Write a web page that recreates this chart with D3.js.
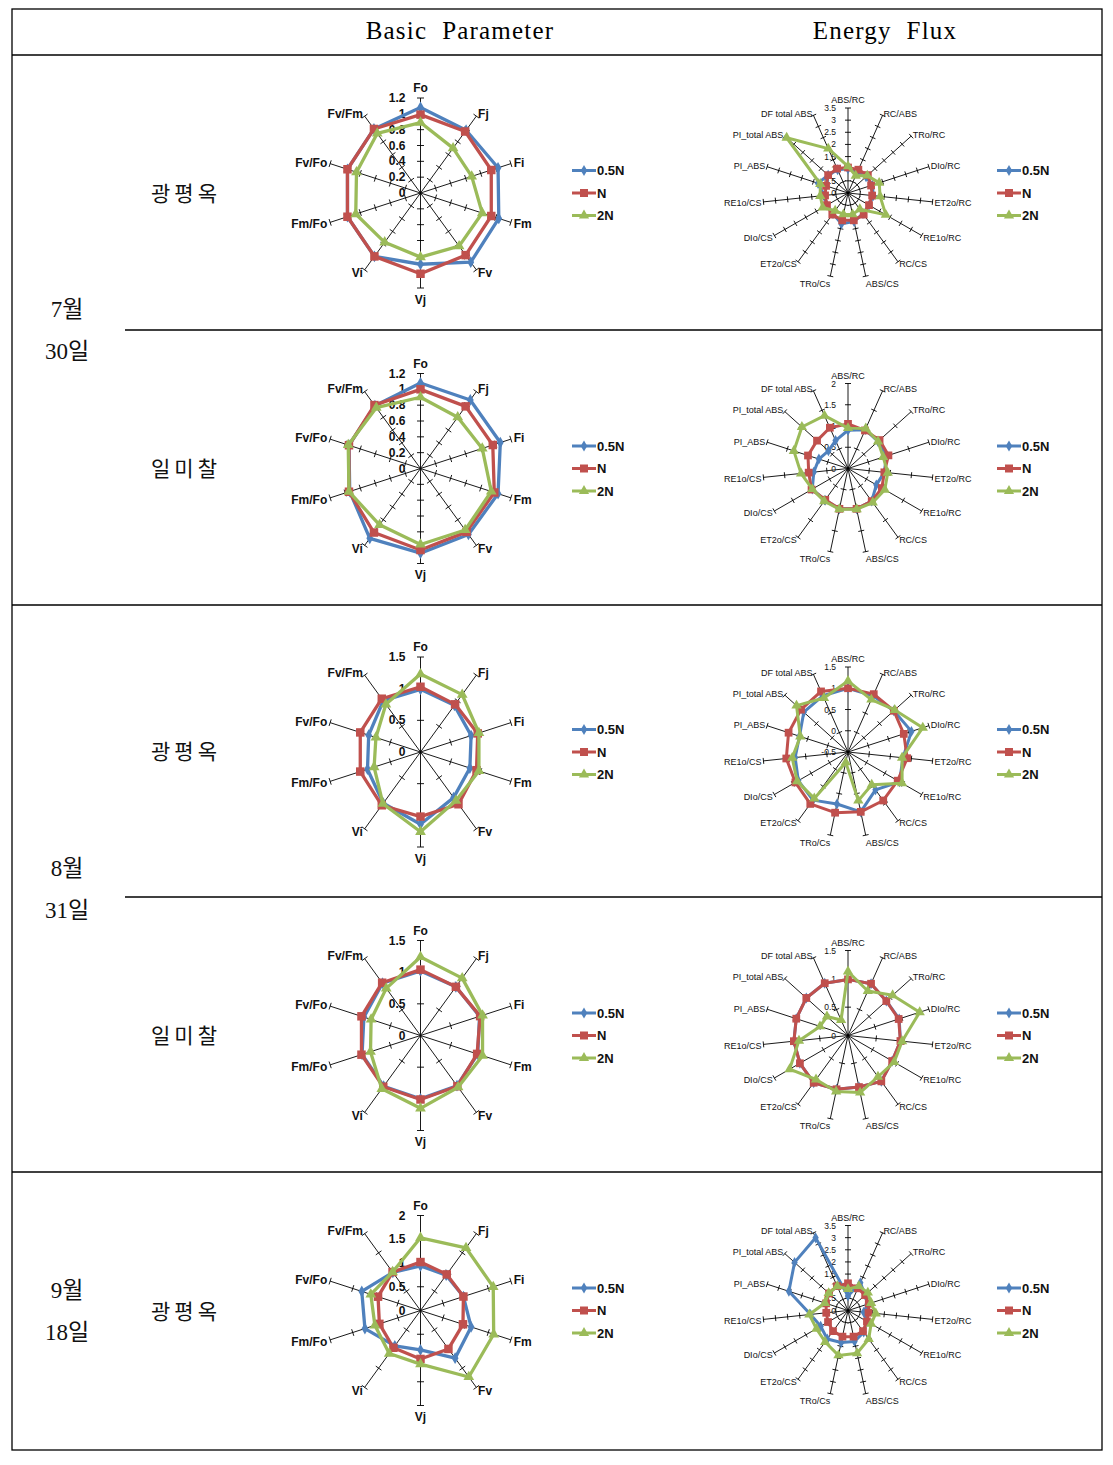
<!DOCTYPE html>
<html><head><meta charset="utf-8">
<script src="https://cdn.jsdelivr.net/npm/d3@7"></script>
<style>body{margin:0;background:#fff}</style>
</head><body>
<svg id="c" width="1113" height="1465"></svg>
<script>
// ---------- categories ----------
const seriesNames = ["0.5N", "N", "2N"];
const basicAxes = ["Fo","Fj","Fi","Fm","Fv","Vj","Vi","Fm/Fo","Fv/Fo","Fv/Fm"];
const energyAxes = ["ABS/RC","RC/ABS","TRo/RC","DIo/RC","ET2o/RC","RE1o/RC","RC/CS","ABS/CS","TRo/Cs","ET2o/CS","DIo/CS","RE1o/CS","PI_ABS","PI_total ABS","DF total ABS"];
const headers = ["Basic  Parameter", "Energy  Flux"];
const cultivars = ["광평옥", "일미찰", "광평옥", "일미찰", "광평옥"];
const dates = [["7월","30일"], ["8월","31일"], ["9월","18일"]];

// ---------- tick values ----------
const ticksB1 = [0,0.2,0.4,0.6,0.8,1,1.2];
const ticksB2 = [0,0.2,0.4,0.6,0.8,1,1.2];
const ticksB3 = [0,0.5,1,1.5];
const ticksB4 = [0,0.5,1,1.5];
const ticksB5 = [0,0.5,1,1.5,2];
const ticksE1 = [0,0.5,1,1.5,2,2.5,3,3.5];
const ticksE2 = [0,0.5,1,1.5,2];
const ticksE3 = [-0.5,0,0.5,1,1.5];
const ticksE4 = [0,0.5,1,1.5];
const ticksE5 = [0,0.5,1,1.5,2,2.5,3,3.5];

// ---------- series values ----------
// 7/30 광평옥
const b1_05N = [1.08,0.98,1.03,1.04,1.08,0.90,0.99,0.97,0.97,1.00];
const b1_N   = [0.99,0.96,0.94,0.94,0.97,1.02,0.99,0.97,0.97,1.00];
const b1_2N  = [0.89,0.70,0.68,0.82,0.83,0.81,0.77,0.86,0.85,0.93];
const e1_05N = [1.0,0.95,1.0,1.05,1.05,1.0,1.05,1.2,1.3,1.05,1.0,1.0,1.3,1.1,1.05];
const e1_N   = [1.05,1.05,1.1,1.0,1.0,1.0,1.1,1.15,1.15,1.1,1.0,0.95,0.95,1.1,1.1];
const e1_2N  = [1.1,0.78,1.07,1.35,1.33,1.8,0.83,0.9,0.9,0.9,1.2,1.15,1.2,3.4,2.0];
// 7/30 일미찰
const b2_05N = [1.08,1.07,1.06,1.03,1.03,1.07,1.09,0.94,0.95,0.98];
const b2_N   = [1.00,0.97,0.96,0.98,0.99,1.03,1.00,0.95,0.95,0.99];
const b2_2N  = [0.90,0.80,0.82,0.94,0.96,0.96,0.88,0.95,0.96,0.95];
const e2_05N = [0.9,1.0,0.95,0.95,0.86,0.77,0.95,0.97,0.97,0.92,0.97,0.81,0.72,0.62,0.72];
const e2_N   = [1.05,0.98,1.0,1.0,0.86,0.92,0.95,0.97,0.97,0.91,0.99,0.93,0.99,0.98,1.05];
const e2_2N  = [0.95,1.03,0.95,0.87,0.94,1.0,0.99,0.98,0.98,0.95,0.97,1.11,1.34,1.46,1.36];
// 8/31 광평옥
const b3_05N = [0.99,0.91,0.84,0.82,0.89,1.14,1.00,0.88,0.86,1.00];
const b3_N   = [1.03,0.93,0.95,0.93,1.02,1.02,1.04,1.00,1.00,1.04];
const b3_2N  = [1.23,1.12,0.97,0.97,0.95,1.26,1.01,0.77,0.74,0.93];
const e3_05N = [1.0,0.95,0.95,1.07,0.8,0.9,0.6,0.94,0.75,0.9,0.85,0.75,0.7,0.9,0.95];
const e3_N   = [1.0,0.99,0.95,0.88,0.9,0.85,0.91,0.94,0.96,1.01,0.93,0.96,0.97,0.99,1.06];
const e3_2N  = [1.17,0.85,0.98,1.35,0.78,0.97,0.45,0.67,-0.25,0.85,0.88,0.82,0.68,1.13,0.89];
// 8/31 일미찰
const b4_05N = [1.02,0.95,0.98,0.95,0.98,1.00,0.99,0.97,0.94,1.02];
const b4_N   = [1.04,0.95,0.99,0.94,0.99,1.01,1.00,0.98,0.98,1.03];
const b4_2N  = [1.24,1.12,1.03,1.03,1.01,1.15,1.04,0.83,0.82,0.92];
const e4_05N = [0.99,1.0,0.91,0.95,0.93,0.9,1.0,0.93,0.97,1.03,0.98,0.96,0.96,0.99,1.01];
const e4_N   = [0.99,1.0,0.91,0.94,0.93,0.9,1.0,0.93,0.97,1.03,0.98,0.96,0.96,0.99,1.01];
const e4_2N  = [1.13,0.86,1.06,1.33,0.96,0.94,0.9,1.03,1.01,0.96,1.19,0.87,0.52,0.5,0.3];
// 9/18 광평옥
const b5_05N = [0.94,0.92,0.95,1.12,1.24,0.83,0.92,1.23,1.30,0.99];
const b5_N   = [1.02,0.94,0.95,0.94,1.00,1.02,0.97,0.91,0.94,1.00];
const b5_2N  = [1.53,1.63,1.61,1.62,1.73,1.13,1.12,1.01,1.10,1.00];
const e5_05N = [0.6,1.25,0.95,0.85,0.65,0.9,1.1,1.3,1.35,1.45,1.3,1.55,2.56,2.96,3.28];
const e5_N   = [1.12,1.0,0.95,0.9,0.85,0.9,1.05,1.1,1.1,1.05,0.95,0.9,0.95,1.05,1.1];
const e5_2N  = [0.88,1.1,1.1,1.0,1.15,1.1,1.45,1.8,1.89,1.6,1.5,1.6,1.0,1.07,1.09];

// ---------- drawing ----------
const colors = ["#4F81BD", "#C0504D", "#9BBB59"];
const symbols = [d3.symbolDiamond, d3.symbolSquare, d3.symbolTriangle];
const svg = d3.select("#c");

// table
const T = {l:12, r:1102, t:9, b:1450, head:55, sub:125};
const rowLines = [330, 605, 897, 1172];
const rowCenters = [192.5, 467.5, 751, 1034.5, 1311];
const dateCenters = [330, 888.5, 1311];
svg.append("rect").attr("x",T.l).attr("y",T.t).attr("width",T.r-T.l).attr("height",T.b-T.t)
  .attr("fill","none").attr("stroke","#000").attr("stroke-width",1.3);
svg.append("line").attr("x1",T.l).attr("x2",T.r).attr("y1",T.head).attr("y2",T.head).attr("stroke","#000").attr("stroke-width",1.3);
rowLines.forEach((y,i)=>{
  svg.append("line").attr("x1", i%2===0 ? T.sub : T.l).attr("x2",T.r).attr("y1",y).attr("y2",y)
    .attr("stroke","#000").attr("stroke-width",1.3);
});
const headerX = [460, 885];
headers.forEach((h,i)=>{
  svg.append("text").attr("x",headerX[i]).attr("y",39).attr("text-anchor","middle")
    .attr("font-family","'Liberation Serif', serif").attr("font-size",25).attr("letter-spacing",1.2)
    .attr("xml:space","preserve").style("white-space","pre").text(h);
});
cultivars.forEach((c,i)=>{
  svg.append("text").attr("x",186).attr("y",rowCenters[i]+8).attr("text-anchor","middle")
    .attr("font-family","'Noto Sans CJK KR', sans-serif").attr("font-size",21).attr("letter-spacing",4)
    .attr("fill","#111").text(c);
});
dates.forEach((d,i)=>{
  [0,1].forEach(k=>{
    svg.append("text").attr("x",67).attr("y",dateCenters[i] + (k===0 ? -21 : 21) + 8).attr("text-anchor","middle")
      .attr("font-family","'Liberation Serif', 'Noto Sans CJK KR', serif").attr("font-size",23)
      .attr("fill","#111").text(d[k]);
  });
});

function radar(cx, cy, axes, ticks, data, o) {
  const g = svg.append("g");
  const R = o.R;
  const r = d3.scaleLinear().domain([ticks[0], ticks[ticks.length-1]]).range([0, R]);
  const n = axes.length;
  const ang = i => i * 2 * Math.PI / n;
  const pt = (i, v) => [cx + r(v) * Math.sin(ang(i)), cy - r(v) * Math.cos(ang(i))];
  const vmax = ticks[ticks.length-1];
  // axes
  axes.forEach((a, i) => {
    const e = pt(i, vmax);
    g.append("line").attr("x1",cx).attr("y1",cy).attr("x2",e[0]).attr("y2",e[1])
      .attr("stroke","#000").attr("stroke-width",0.9);
    const s = Math.sin(ang(i)), c = Math.cos(ang(i));
    ticks.slice(1).forEach(t => {
      const p = pt(i, t), h = o.tickLen/2;
      g.append("line").attr("x1",p[0]-c*h).attr("y1",p[1]-s*h).attr("x2",p[0]+c*h).attr("y2",p[1]+s*h)
        .attr("stroke","#000").attr("stroke-width",0.9);
    });
    // label
    let x = e[0] + s*o.gap, y = e[1] - c*o.gap;
    const t = g.append("text").attr("font-family","'Liberation Sans', Arial, sans-serif")
      .attr("font-size",o.labelSize).attr("font-weight",o.labelWeight).attr("fill","#111");
    let anchor = s > 0.15 ? "start" : (s < -0.15 ? "end" : "middle");
    if (c > 0.95) { t.attr("x",e[0]).attr("y",e[1]-o.topGap); }
    else if (c < -0.95) { t.attr("x",e[0]).attr("y",e[1]+o.botGap).attr("dominant-baseline","hanging"); }
    else { t.attr("x",x).attr("y",y + (c < 0 ? 1 : 0)).attr("dominant-baseline","central"); }
    t.attr("text-anchor",anchor).text(a);
  });
  // tick labels
  ticks.forEach(t => {
    g.append("text").attr("x",cx - o.tickDx).attr("y",cy - r(t)).attr("text-anchor","end")
      .attr("dominant-baseline","central").attr("font-family","'Liberation Sans', Arial, sans-serif")
      .attr("font-size",o.tickSize).attr("font-weight",o.tickWeight).attr("fill","#111").text(String(t));
  });
  // series
  const line = d3.line().curve(d3.curveLinearClosed);
  data.forEach((vals, k) => {
    const pts = vals.map((v, i) => pt(i, v));
    g.append("path").attr("d", line(pts)).attr("fill","none").attr("stroke",colors[k])
      .attr("stroke-width",o.lw).attr("stroke-linejoin","round");
    pts.forEach(p => {
      g.append("path").attr("d", d3.symbol().type(symbols[k]).size(o.msize[k])())
        .attr("transform",`translate(${p[0]},${p[1]})`).attr("fill",colors[k]);
    });
  });
  // legend
  seriesNames.forEach((nm, k) => {
    const ly = cy + (k - 1) * 22.5, lx = o.legX;
    g.append("line").attr("x1",lx).attr("x2",lx+24).attr("y1",ly).attr("y2",ly)
      .attr("stroke",colors[k]).attr("stroke-width",3);
    g.append("path").attr("d", d3.symbol().type(symbols[k]).size(o.legSize[k])())
      .attr("transform",`translate(${lx+12},${ly})`).attr("fill",colors[k]);
    g.append("text").attr("x",lx+25).attr("y",ly).attr("dominant-baseline","central")
      .attr("font-family","'Liberation Sans', Arial, sans-serif").attr("font-size",13)
      .attr("font-weight","bold").attr("fill","#111").text(nm);
  });
}

const basicOpt = {R:95, tickLen:7, gap:3, topGap:6, botGap:7, labelSize:12, labelWeight:"bold",
  tickSize:12, tickWeight:"bold", tickDx:15, lw:3.3, msize:[40,72,50], legSize:[36,64,45], legX:572};
const energyOpt = {R:85, tickLen:6, gap:2, topGap:5, botGap:4, labelSize:9, labelWeight:"normal",
  tickSize:8.5, tickWeight:"normal", tickDx:12, lw:3, msize:[34,60,46], legSize:[36,64,45], legX:997};

const basicCharts = [
  [ticksB1, [b1_05N,b1_N,b1_2N]],
  [ticksB2, [b2_05N,b2_N,b2_2N]],
  [ticksB3, [b3_05N,b3_N,b3_2N]],
  [ticksB4, [b4_05N,b4_N,b4_2N]],
  [ticksB5, [b5_05N,b5_N,b5_2N]]
];
const energyCharts = [
  [ticksE1, [e1_05N,e1_N,e1_2N]],
  [ticksE2, [e2_05N,e2_N,e2_2N]],
  [ticksE3, [e3_05N,e3_N,e3_2N]],
  [ticksE4, [e4_05N,e4_N,e4_2N]],
  [ticksE5, [e5_05N,e5_N,e5_2N]]
];
const chartCY = [193, 468.5, 752, 1035.5, 1310.5];
basicCharts.forEach((c, i) => radar(420.5, chartCY[i], basicAxes, c[0], c[1], basicOpt));
energyCharts.forEach((c, i) => radar(848, chartCY[i], energyAxes, c[0], c[1], energyOpt));
</script>
</body></html>
